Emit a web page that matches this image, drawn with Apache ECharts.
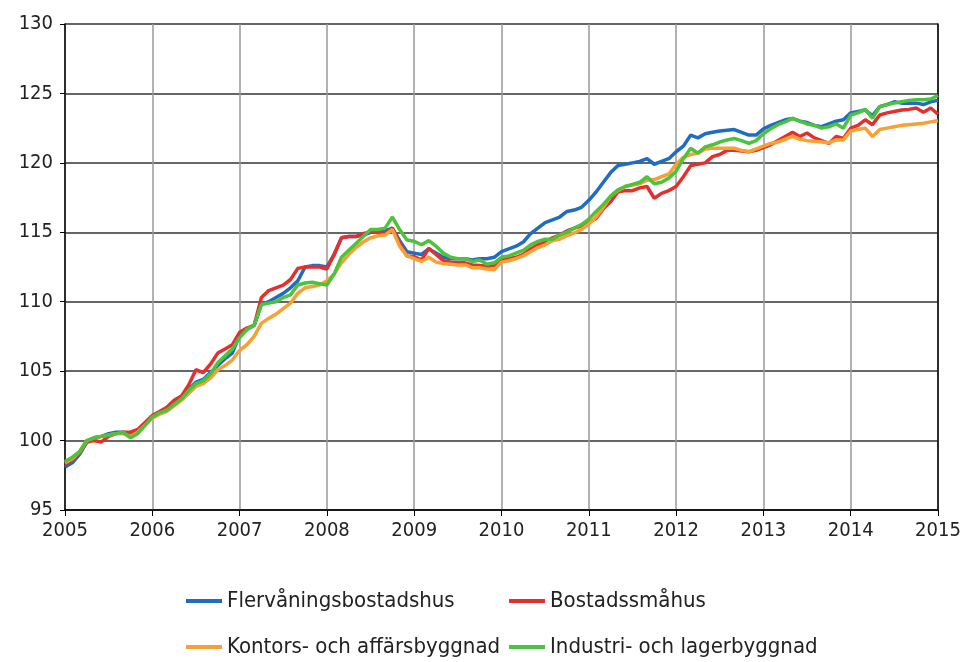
<!DOCTYPE html>
<html>
<head>
<meta charset="utf-8">
<script src="https://cdn.jsdelivr.net/npm/echarts@6/dist/echarts.min.js"></script>
<style>
html,body{margin:0;padding:0;background:#fff;}
#chart{width:965px;height:662px;}
</style>
</head>
<body>
<div id="chart"></div>
<script>
// Monthly index values, Jan 2005 .. Jan 2015
const startYear = 2005;
const endYear = 2015;
const categories = [];
for (let y = startYear; y <= endYear; y++) {
  for (let m = 1; m <= 12; m++) {
    if (y === endYear && m > 1) break;
    categories.push(y + 'M' + String(m).padStart(2, '0'));
  }
}

const seriesNames = ['Flervåningsbostadshus', 'Bostadssmåhus', 'Kontors- och affärsbyggnad', 'Industri- och lagerbyggnad'];

const flervaning = [
  98.1, 98.4, 99.0, 99.9, 100.2, 100.3, 100.5, 100.6, 100.6, 100.5, 100.7, 101.2,
  101.7, 102.0, 102.2, 102.7, 103.1, 103.7, 104.2, 104.4, 104.9, 105.4, 105.9, 106.3,
  107.6, 108.0, 108.3, 109.8, 110.0, 110.3, 110.6, 111.0, 111.5, 112.5, 112.6, 112.6,
  112.5, 113.4, 114.6, 114.7, 114.7, 114.8, 115.0, 115.0, 115.1, 115.3, 114.4, 113.6,
  113.5, 113.4, 113.8, 113.5, 113.2, 113.1, 113.1, 113.1, 113.0, 113.1, 113.1, 113.2,
  113.6, 113.8, 114.0, 114.3, 114.9, 115.3, 115.7, 115.9, 116.1, 116.5, 116.6, 116.8,
  117.3, 117.9, 118.6, 119.3, 119.8, 119.9, 120.0, 120.1, 120.3, 119.9, 120.1, 120.3,
  120.8, 121.2, 122.0, 121.8, 122.1, 122.2, 122.3, 122.35, 122.4, 122.2, 122.0, 122.0,
  122.45, 122.7, 122.9, 123.1, 123.2, 123.0, 122.9, 122.7, 122.6, 122.8, 123.0, 123.1,
  123.6, 123.7, 123.8, 123.4, 124.05, 124.2, 124.4, 124.3, 124.3, 124.3, 124.2, 124.4,
  124.5
];

const bostadssmahus = [
  98.3, 98.6, 99.1, 99.9, 100.0, 99.9, 100.3, 100.5, 100.6, 100.6, 100.8, 101.3,
  101.8, 102.1, 102.4, 102.9, 103.2, 104.0, 105.1, 104.9, 105.5, 106.3, 106.6, 106.9,
  107.8, 108.1, 108.3, 110.3, 110.8, 111.0, 111.2, 111.6, 112.4, 112.5, 112.5, 112.5,
  112.35, 113.4, 114.6, 114.7, 114.7, 114.9, 115.05, 115.0, 114.9, 115.3, 114.2, 113.3,
  113.25, 113.0, 113.85, 113.4, 112.95, 112.85, 112.8, 112.8, 112.65, 112.6, 112.55, 112.6,
  113.0, 113.1, 113.2, 113.4, 113.8, 114.1, 114.3, 114.6, 114.8, 115.1, 115.3, 115.45,
  115.7, 116.0, 116.7, 117.2, 117.9, 118.0, 118.0, 118.2, 118.3, 117.45, 117.8, 118.0,
  118.3, 119.0, 119.8, 119.9, 120.0, 120.45, 120.6, 120.9, 120.9, 120.85, 120.8, 120.9,
  121.1, 121.3, 121.6, 121.9, 122.2, 121.9, 122.15, 121.8, 121.6, 121.4, 121.9, 121.75,
  122.5, 122.7, 123.1, 122.75, 123.45, 123.6, 123.7, 123.8, 123.85, 123.95, 123.65, 123.95,
  123.5
];

const kontors = [
  98.4, 98.7, 99.2, 100.0, 100.2, 100.3, 100.4, 100.5, 100.5, 100.3, 100.6, 101.1,
  101.6, 101.9, 102.1, 102.5, 102.9, 103.4, 103.9, 104.1, 104.5, 105.1, 105.4, 105.8,
  106.5, 106.9, 107.5, 108.45, 108.8, 109.1, 109.5, 109.9, 110.6, 111.0, 111.1, 111.2,
  111.5, 112.0, 112.8, 113.4, 113.9, 114.3, 114.6, 114.75, 114.8, 115.2, 114.0, 113.3,
  113.1, 112.9, 113.2, 112.85, 112.75, 112.7, 112.65, 112.65, 112.45, 112.45, 112.35, 112.3,
  112.85, 112.95, 113.1, 113.3, 113.6, 113.9, 114.1, 114.4, 114.5, 114.75, 114.95, 115.2,
  115.6, 116.1, 116.8, 117.6, 118.0, 118.3, 118.4, 118.5, 118.75, 118.8, 119.0, 119.2,
  119.9, 120.4, 120.6, 120.7, 121.0, 121.05, 121.05, 121.05, 121.05, 120.9, 120.8, 121.0,
  121.2, 121.4, 121.5, 121.7, 121.9, 121.7, 121.6, 121.55, 121.5, 121.45, 121.65, 121.65,
  122.3, 122.4, 122.5, 121.9, 122.4, 122.5, 122.6, 122.7, 122.75, 122.8, 122.85, 122.95,
  123.05
];

const industri = [
  98.5, 98.8, 99.2, 100.0, 100.2, 100.3, 100.4, 100.5, 100.6, 100.2, 100.5, 101.1,
  101.7, 102.0, 102.2, 102.6, 103.0, 103.6, 104.1, 104.3, 104.8, 105.6, 106.1, 106.6,
  107.4, 108.0, 108.3, 109.8, 109.9, 110.0, 110.3, 110.5, 111.2, 111.35, 111.4, 111.3,
  111.2, 112.0, 113.2, 113.7, 114.2, 114.7, 115.2, 115.2, 115.3, 116.1, 115.2, 114.45,
  114.35, 114.1, 114.4, 114.0, 113.5, 113.2, 113.1, 113.1, 112.9, 113.0, 112.7, 112.8,
  113.2, 113.3, 113.5, 113.7, 114.1, 114.35, 114.5, 114.5, 114.8, 115.0, 115.3, 115.55,
  115.95, 116.5, 117.0, 117.6, 118.05, 118.3, 118.45, 118.6, 119.0, 118.5, 118.6, 118.9,
  119.4, 120.3, 121.05, 120.7, 121.15, 121.3, 121.5, 121.65, 121.75, 121.6, 121.4, 121.6,
  122.1, 122.45, 122.75, 122.95, 123.2, 123.0, 122.8, 122.7, 122.5, 122.6, 122.8, 122.5,
  123.45, 123.6, 123.85, 123.2, 124.05, 124.2, 124.3, 124.4, 124.5, 124.55, 124.55, 124.6,
  124.85
];

const seriesData = [flervaning, bostadssmahus, kontors, industri];
const colors = ['#1f6cc2', '#e3302f', '#f7a033', '#4dc23c'];

const yMin = 95, yMax = 130, yStep = 5;
const font = "'Liberation Sans Narrow', 'DejaVu Sans Condensed', 'Arial Narrow', sans-serif";

// legend placement: [left, top] per series
const legendPos = [[186, 590], [509, 590], [186, 636], [509, 636]];

const chart = echarts.init(document.getElementById('chart'), null, {renderer: 'canvas'});
chart.setOption({
  animation: false,
  backgroundColor: '#fff',
  grid: {left: 65, right: 27, top: 24, bottom: 152, containLabel: false},
  legend: seriesNames.map((n, i) => ({
    data: [n],
    left: legendPos[i][0], top: legendPos[i][1], padding: 0,
    icon: 'rect', itemWidth: 36, itemHeight: 4, itemGap: 0,
    textStyle: {fontFamily: font, fontSize: 22, color: '#222'}
  })),
  xAxis: {
    type: 'category',
    data: categories,
    boundaryGap: false,
    axisLine: {show: true, lineStyle: {color: '#000', width: 1.5}},
    axisTick: {show: true, interval: 11, length: 6, lineStyle: {color: '#000'}},
    axisLabel: {
      interval: 11, margin: 11, color: '#222', fontFamily: font, fontSize: 20,
      formatter: v => v.slice(0, 4)
    },
    splitLine: {show: true, interval: 11, lineStyle: {color: '#999', width: 1.5}}
  },
  yAxis: [
    {
      type: 'value', min: yMin, max: yMax, interval: yStep,
      axisLine: {show: true, lineStyle: {color: '#000', width: 1.5}},
      axisTick: {show: true, length: 5, lineStyle: {color: '#000'}},
      axisLabel: {margin: 12, color: '#222', fontFamily: font, fontSize: 20},
      splitLine: {show: true, lineStyle: {color: '#333', width: 1.5}}
    },
    {
      type: 'value', min: yMin, max: yMax, interval: yStep, position: 'right',
      axisLine: {show: true, lineStyle: {color: '#000', width: 1.5}},
      axisTick: {show: false}, axisLabel: {show: false}, splitLine: {show: false}
    }
  ],
  series: seriesNames.map((name, i) => ({
    name: name,
    type: 'line',
    data: seriesData[i],
    yAxisIndex: 0,
    showSymbol: false,
    symbol: 'none',
    color: colors[i],
    lineStyle: {width: 3.5, color: colors[i]},
    emphasis: {disabled: true}
  }))
});
</script>
</body>
</html>
